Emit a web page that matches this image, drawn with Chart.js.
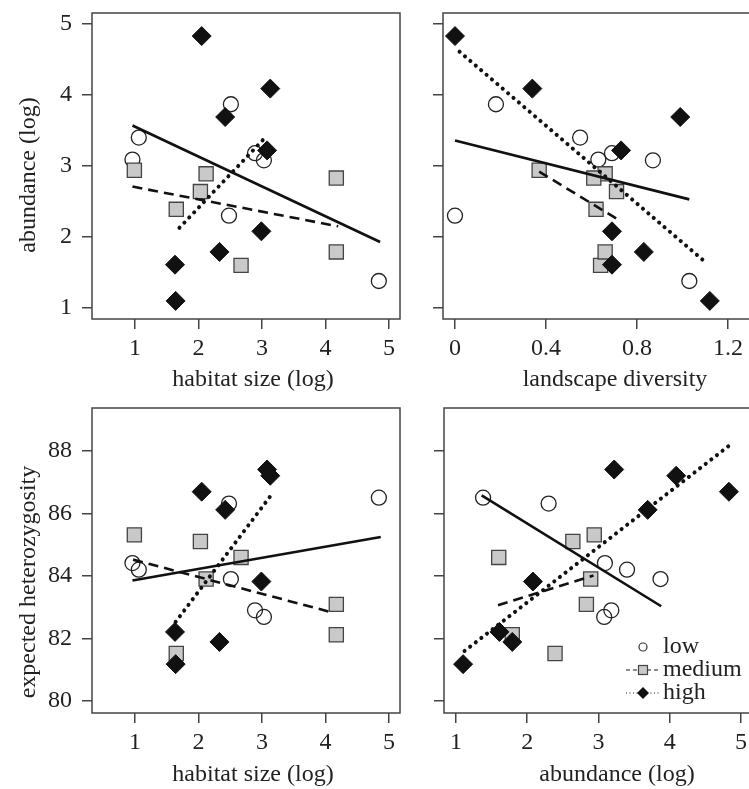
<!DOCTYPE html>
<html>
<head>
<meta charset="utf-8">
<script src="https://cdn.jsdelivr.net/npm/chart.js@4.4.1/dist/chart.umd.min.js"></script>
<style>
  body { margin: 0; background: #fff; overflow: hidden; width: 749px; height: 789px; position: relative; }
  canvas { position: absolute; }
</style>
</head>
<body>
<canvas id="p1" width="402" height="395" style="left:0;top:0;width:402px;height:395px"></canvas>
<canvas id="p2" width="352" height="395" style="left:400px;top:0;width:352px;height:395px"></canvas>
<canvas id="p3" width="402" height="394" style="left:0;top:395px;width:402px;height:394px"></canvas>
<canvas id="p4" width="352" height="394" style="left:400px;top:395px;width:352px;height:394px"></canvas>
<script>
/*=============================================
DATA
=============================================*/
var groups = ['low', 'medium', 'high'];

// low
var habitatLow   = [0.96, 1.06, 2.51, 2.89, 3.03, 2.48, 4.84];
var diversityLow = [0.63, 0.55, 0.18, 0.69, 0.87, 0.00, 1.03];
var abundLow     = [3.09, 3.40, 3.87, 3.18, 3.08, 2.30, 1.38];
var hetLow       = [84.41, 84.20, 83.90, 82.90, 82.69, 86.31, 86.50];

// medium
var habitatMed   = [0.99, 2.12, 2.03, 1.65, 2.67, 4.17, 4.17];
var diversityMed = [0.37, 0.66, 0.71, 0.62, 0.64, 0.61, 0.66];
var abundMed     = [2.94, 2.89, 2.64, 2.39, 1.60, 2.83, 1.79];
var hetMed       = [85.31, 83.90, 85.10, 81.52, 84.59, 83.09, 82.12];

// high
var habitatHigh   = [2.05, 3.13, 2.42, 3.08, 2.99, 2.33, 1.63, 1.64];
var diversityHigh = [0.00, 0.34, 0.99, 0.73, 0.69, 0.83, 0.69, 1.12];
var abundHigh     = [4.83, 4.09, 3.69, 3.22, 2.08, 1.79, 1.61, 1.10];
var hetHigh       = [86.69, 87.20, 86.11, 87.40, 83.82, 81.89, 82.21, 81.18];

// fitted lines, end points [x0, x1] / [y0, y1]
var fit1X = { low: [0.96, 4.86], medium: [0.96, 4.20], high: [1.70, 3.06] };
var fit1Y = { low: [3.57, 1.93], medium: [2.71, 2.15], high: [2.13, 3.41] };
var fit2X = { low: [0.00, 1.03], medium: [0.37, 0.72], high: [0.02, 1.11] };
var fit2Y = { low: [3.36, 2.53], medium: [2.92, 2.24], high: [4.61, 1.62] };
var fit3X = { low: [0.96, 4.87], medium: [0.97, 4.11], high: [1.64, 3.14] };
var fit3Y = { low: [83.85, 85.24], medium: [84.52, 82.83], high: [82.53, 86.57] };
var fit4X = { low: [1.36, 3.88], medium: [1.59, 2.93], high: [1.12, 4.82] };
var fit4Y = { low: [86.57, 83.03], medium: [83.06, 84.01], high: [81.60, 88.14] };

// ticks
var habitatTicks   = [1, 2, 3, 4, 5];
var habitatLabels  = ['1', '2', '3', '4', '5'];
var diversityTicks = [0, 0.4, 0.8, 1.2];
var diversityLabels = ['0', '0.4', '0.8', '1.2'];
var abundTicks     = [1, 2, 3, 4, 5];
var abundLabels    = ['1', '2', '3', '4', '5'];
var hetTicks       = [80, 82, 84, 86, 88];
var hetLabels      = ['80', '82', '84', '86', '88'];

/*=============================================
STYLE
=============================================*/
var FONT = "'Liberation Serif', 'Times New Roman', serif";
var INK = '#222';
var FRAME = '#444';

function pts(xs, ys) {
    return xs.map(function (x, i) { return { x: x, y: ys[i] }; });
}

function pointSet(xs, ys, g) {
    var base = { data: pts(xs, ys), showLine: false };
    if (g === 'low') {
        return Object.assign(base, { pointStyle: 'circle', pointRadius: 7.5, backgroundColor: 'rgba(255,255,255,0)', borderColor: '#222', borderWidth: 1.3 });
    }
    if (g === 'medium') {
        return Object.assign(base, { pointStyle: 'rect', pointRadius: 10, backgroundColor: '#c9c9c9', borderColor: '#444', borderWidth: 1.3 });
    }
    return Object.assign(base, { pointStyle: 'rectRot', pointRadius: 9.5, backgroundColor: '#111', borderColor: '#111', borderWidth: 1 });
}

function lineSet(xs, ys, g) {
    var base = { data: pts(xs, ys), showLine: true, pointRadius: 0, borderColor: '#111', fill: false };
    if (g === 'low') return Object.assign(base, { borderWidth: 2.6 });
    if (g === 'medium') return Object.assign(base, { borderWidth: 2.6, borderDash: [10, 6] });
    return Object.assign(base, { borderWidth: 4, borderDash: [0.1, 7], borderCapStyle: 'round' });
}

function axis(min, max, ticks, labels, size, horizontal) {
    return {
        type: 'linear',
        min: min,
        max: max,
        afterBuildTicks: function (s) { s.ticks = ticks.map(function (v) { return { value: v }; }); },
        afterFit: function (s) {
            // fixed axis box, no extra padding for edge labels
            if (horizontal) { s.height = size; } else { s.width = size; }
            s.paddingLeft = 0; s.paddingRight = 0; s.paddingTop = 0; s.paddingBottom = 0;
        },
        grid: { drawOnChartArea: false, drawTicks: true, tickLength: 10, color: FRAME, lineWidth: 1.5 },
        border: { display: false },
        ticks: {
            autoSkip: false,
            maxRotation: 0,
            padding: horizontal ? 5 : 10,
            color: INK,
            font: { family: FONT, size: 24 },
            callback: function (v, i) { return labels ? labels[i] : ''; }
        }
    };
}

/*=============================================
PLUGINS: frame box, free text, legend
=============================================*/
var framePlugin = {
    id: 'frame',
    afterDraw: function (chart) {
        var a = chart.chartArea, c = chart.ctx;
        c.save();
        c.strokeStyle = FRAME;
        c.lineWidth = 1.5;
        c.strokeRect(a.left, a.top, a.right - a.left, a.bottom - a.top);
        c.restore();
    }
};

var textPlugin = {
    id: 'texts',
    afterDraw: function (chart, args, opts) {
        var c = chart.ctx;
        (opts.items || []).forEach(function (t) {
            c.save();
            c.translate(t.x, t.y);
            if (t.rot) c.rotate(t.rot);
            c.fillStyle = INK;
            c.font = '24px ' + FONT;
            c.textAlign = 'center';
            c.textBaseline = 'middle';
            c.fillText(t.text, 0, 0);
            c.restore();
        });
    }
};

var legendPlugin = {
    id: 'miniLegend',
    afterDraw: function (chart, args, opts) {
        if (!opts.show) return;
        var c = chart.ctx;
        var sx = opts.x, tx = opts.x + 20, ys = opts.ys;
        c.save();
        // line samples
        c.strokeStyle = '#666';
        c.lineWidth = 1.3;
        c.setLineDash([4, 3]);
        c.beginPath(); c.moveTo(sx - 17, ys[1]); c.lineTo(sx + 18, ys[1]); c.stroke();
        c.setLineDash([1, 2.5]);
        c.beginPath(); c.moveTo(sx - 17, ys[2]); c.lineTo(sx + 18, ys[2]); c.stroke();
        c.setLineDash([]);
        // symbols
        c.lineWidth = 1.2;
        c.strokeStyle = '#333';
        c.beginPath(); c.arc(sx, ys[0], 4, 0, Math.PI * 2); c.stroke();
        c.fillStyle = '#c9c9c9';
        c.strokeStyle = '#444';
        c.fillRect(sx - 4.5, ys[1] - 4.5, 9, 9); c.strokeRect(sx - 4.5, ys[1] - 4.5, 9, 9);
        c.fillStyle = '#111';
        c.beginPath(); c.moveTo(sx - 6, ys[2]); c.lineTo(sx, ys[2] - 6); c.lineTo(sx + 6, ys[2]); c.lineTo(sx, ys[2] + 6); c.closePath(); c.fill();
        // labels
        c.fillStyle = INK;
        c.font = '24px ' + FONT;
        c.textAlign = 'left';
        c.textBaseline = 'middle';
        groups.forEach(function (g, i) { c.fillText(g, tx, ys[i]); });
        c.restore();
    }
};

/*=============================================
PANELS
=============================================*/
function panel(id, sets, xScale, yScale, pad, texts, legend) {
    new Chart(document.getElementById(id), {
        type: 'scatter',
        data: { datasets: sets },
        options: {
            responsive: false,
            animation: false,
            events: [],
            layout: { padding: pad, autoPadding: false },
            scales: { x: xScale, y: yScale },
            plugins: {
                legend: { display: false },
                tooltip: { enabled: false },
                texts: { items: texts },
                miniLegend: legend || { show: false }
            }
        },
        plugins: [framePlugin, textPlugin, legendPlugin]
    });
}

function buildSets(fx, fy, xl, yl, xm, ym, xh, yh) {
    return [
        lineSet(fx.high, fy.high, 'high'),
        lineSet(fx.medium, fy.medium, 'medium'),
        lineSet(fx.low, fy.low, 'low'),
        pointSet(xh, yh, 'high'),
        pointSet(xm, ym, 'medium'),
        pointSet(xl, yl, 'low')
    ];
}

// top left: habitat size vs abundance
panel('p1',
    buildSets(fit1X, fit1Y, habitatLow, abundLow, habitatMed, abundMed, habitatHigh, abundHigh),
    axis(0.323, 5.173, habitatTicks, habitatLabels, 76, true),
    axis(0.845, 5.155, abundTicks, abundLabels, 92, false),
    { top: 13, right: 2, left: 0, bottom: 0 },
    [{ text: 'habitat size (log)', x: 253, y: 380 },
     { text: 'abundance (log)', x: 29, y: 175, rot: -Math.PI / 2 }]);

// top right: landscape diversity vs abundance
panel('p2',
    buildSets(fit2X, fit2Y, diversityLow, abundLow, diversityMed, abundMed, diversityHigh, abundHigh),
    axis(-0.0527, 1.3055, diversityTicks, diversityLabels, 76, true),
    axis(0.845, 5.155, abundTicks, null, 43, false),
    { top: 13, right: 0, left: 0, bottom: 0 },
    [{ text: 'landscape diversity', x: 215, y: 380 }]);

// bottom left: habitat size vs heterozygosity
panel('p3',
    buildSets(fit3X, fit3Y, habitatLow, hetLow, habitatMed, hetMed, habitatHigh, hetHigh),
    axis(0.323, 5.173, habitatTicks, habitatLabels, 76, true),
    axis(79.619, 89.365, hetTicks, hetLabels, 92, false),
    { top: 13, right: 2, left: 0, bottom: 0 },
    [{ text: 'habitat size (log)', x: 253, y: 380 },
     { text: 'expected heterozygosity', x: 29, y: 187, rot: -Math.PI / 2 }]);

// bottom right: abundance vs heterozygosity, with legend
panel('p4',
    buildSets(fit4X, fit4Y, abundLow, hetLow, abundMed, hetMed, abundHigh, hetHigh),
    axis(0.832, 5.154, abundTicks, abundLabels, 76, true),
    axis(79.619, 89.365, hetTicks, null, 44, false),
    { top: 13, right: 0, left: 0, bottom: 0 },
    [{ text: 'abundance (log)', x: 217, y: 380 }],
    { show: true, x: 243, ys: [252, 275, 298] });
</script>
</body>
</html>
